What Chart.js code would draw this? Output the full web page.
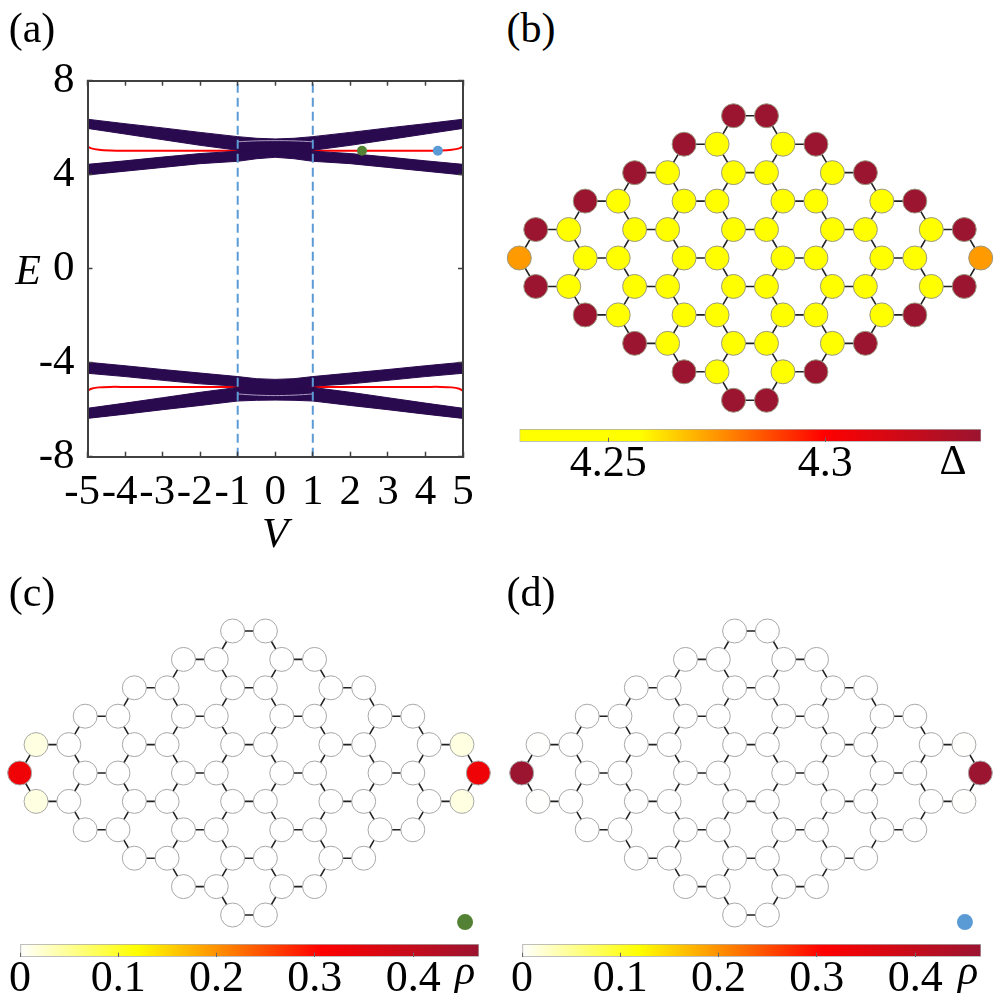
<!DOCTYPE html>
<html>
<head>
<meta charset="utf-8">
<script src="https://cdn.jsdelivr.net/npm/chart.js@4"></script>
<style>
  html, body { margin: 0; padding: 0; background: #fff; }
  #page { position: relative; width: 999px; height: 1000px; overflow: hidden; }
  canvas { position: absolute; }
  .lbl { position: absolute; font-family: "Liberation Serif", serif; font-size: 42px; line-height: 46px; color: #000; white-space: pre; transform: translate(-50%, -50%); }
  .it { font-style: italic; }
</style>
</head>
<body>
<div id="page">
  <canvas id="bands" style="left:0;top:50px" width="499" height="512"></canvas>
  <canvas id="latB" style="left:500px;top:90px" width="500" height="336"></canvas>
  <canvas id="barB" style="left:500px;top:415px" width="499" height="70"></canvas>
  <canvas id="latC" style="left:0;top:605px" width="498" height="336"></canvas>
  <canvas id="barC" style="left:0;top:930px" width="499" height="70"></canvas>
  <canvas id="latD" style="left:502px;top:605px" width="498" height="336"></canvas>
  <canvas id="barD" style="left:500px;top:930px" width="499" height="70"></canvas>

  <span class="lbl" style="left:32px;top:28px">(a)</span>
  <span class="lbl" style="left:531px;top:28px">(b)</span>
  <span class="lbl" style="left:32px;top:592px">(c)</span>
  <span class="lbl" style="left:531px;top:592px">(d)</span>
  <span class="lbl it" style="left:28px;top:270px">E</span>
  <span class="lbl" style="left:953px;top:460px">Δ</span>
  <span class="lbl it" style="left:465px;top:970px">ρ</span>
  <span class="lbl it" style="left:968px;top:970px">ρ</span>
</div>

<script>
Chart.defaults.font.family = '"Liberation Serif"';

// panel (a), band edges
const vKnots   = [-5, -4, -3, -2, -1, -0.5, 0, 0.5, 1, 2, 3, 4, 5];
const upHiTop  = [6.36, 6.17, 5.99, 5.80, 5.62, 5.55, 5.52, 5.55, 5.62, 5.80, 5.99, 6.17, 6.36];
const upHiBot  = [5.97, 5.73, 5.49, 5.25, 5.04, 5.00, 4.95, 5.00, 5.04, 5.25, 5.49, 5.73, 5.97];
const upLoTop  = [4.44, 4.59, 4.75, 4.90, 5.00, 5.10, 5.15, 5.10, 5.00, 4.90, 4.75, 4.59, 4.44];
const upLoBot  = [3.99, 4.15, 4.31, 4.47, 4.57, 4.68, 4.74, 4.68, 4.57, 4.47, 4.31, 4.15, 3.99];
const dnHiTop  = [-3.98, -4.13, -4.29, -4.44, -4.59, -4.68, -4.71, -4.68, -4.59, -4.44, -4.29, -4.13, -3.98];
const dnHiBot  = [-4.45, -4.59, -4.75, -4.90, -5.00, -5.10, -5.15, -5.10, -5.00, -4.90, -4.75, -4.59, -4.45];
const dnLoTop  = [-5.94, -5.72, -5.49, -5.26, -5.05, -5.00, -4.95, -5.00, -5.05, -5.26, -5.49, -5.72, -5.94];
const dnLoBot  = [-6.37, -6.19, -6.00, -5.82, -5.63, -5.60, -5.59, -5.60, -5.63, -5.82, -6.00, -6.19, -6.37];

// the in-gap edge states (red)
const redV   = [-5, -4.9, -4.7, -4.4, -4, -2, 0, 2, 4, 4.4, 4.7, 4.9, 5];
const redUp  = [5.20, 5.12, 5.06, 5.03, 5.02, 5.02, 5.02, 5.02, 5.02, 5.03, 5.06, 5.12, 5.20];
const redDn  = [-5.19, -5.11, -5.05, -5.03, -5.03, -5.03, -5.03, -5.03, -5.03, -5.03, -5.05, -5.11, -5.19];

// faint arcs inside the crossing
const arcV   = [-1, -0.5, 0, 0.5, 1];
const arcUp  = [5.40, 5.44, 5.45, 5.44, 5.40];
const arcDn  = [-5.33, -5.38, -5.40, -5.38, -5.33];

const vLines = [-1, 1];
const greenV = 2.31, blueV = 4.33, dotE = 5.02;

const vTicks = [-5, -4, -3, -2, -1, 0, 1, 2, 3, 4, 5];
const eTicks = [-8, -4, 0, 4, 8];

// lattice sites, row by row from the top
const rowY = [5, 4, 3, 2, 1, 0, -1, -2, -3, -4, -5];
const rowU = [
  [-1, 1],
  [-4, -2, 2, 4],
  [-7, -5, -1, 1, 5, 7],
  [-10, -8, -4, -2, 2, 4, 8, 10],
  [-13, -11, -7, -5, -1, 1, 5, 7, 11, 13],
  [-14, -10, -8, -4, -2, 2, 4, 8, 10, 14],
  [-13, -11, -7, -5, -1, 1, 5, 7, 11, 13],
  [-10, -8, -4, -2, 2, 4, 8, 10],
  [-7, -5, -1, 1, 5, 7],
  [-4, -2, 2, 4],
  [-1, 1]
];

// Δ on each site, panel (b)
const Dh = 4.336, Dl = 4.232, Dt = 4.274;
const rowDelta = [
  [Dh, Dh],
  [Dh, Dl, Dl, Dh],
  [Dh, Dl, Dl, Dl, Dl, Dh],
  [Dh, Dl, Dl, Dl, Dl, Dl, Dl, Dh],
  [Dh, Dl, Dl, Dl, Dl, Dl, Dl, Dl, Dl, Dh],
  [Dt, Dl, Dl, Dl, Dl, Dl, Dl, Dl, Dl, Dt],
  [Dh, Dl, Dl, Dl, Dl, Dl, Dl, Dl, Dl, Dh],
  [Dh, Dl, Dl, Dl, Dl, Dl, Dl, Dh],
  [Dh, Dl, Dl, Dl, Dl, Dh],
  [Dh, Dl, Dl, Dh],
  [Dh, Dh]
];

// ρ on each site, panels (c) and (d): only the corners are non zero
const cornerC = [0.33, 0.014];
const cornerD = [0.467, 0.001];

const deltaMin = 4.2295, deltaMax = 4.336;
const deltaTicks = [4.25, 4.3];
const rhoMin = 0, rhoMax = 0.467;
const rhoTicks = [0, 0.1, 0.2, 0.3, 0.4];

const FONT = { family: '"Liberation Serif"', size: 43 };
const BAR_FONT = { family: '"Liberation Serif"', size: 44 };
const AXIS = '#404040';
const PURPLE = '#2a0a4e';
const BLUE = '#5b9bd5';
const GREEN = '#548235';

const rhoMap = [[0, [255, 255, 255]], [0.255, [255, 255, 0]], [0.655, [255, 0, 0]], [1, [155, 20, 48]]];
const deltaMap = [[0, [255, 255, 0]], [0.26, [255, 255, 0]], [0.66, [255, 0, 0]], [1, [155, 20, 48]]];

function mapColor(stops, t) {
  t = Math.min(1, Math.max(0, t));
  for (let i = 1; i < stops.length; i++) {
    if (t <= stops[i][0]) {
      let a = stops[i - 1], b = stops[i];
      let f = (t - a[0]) / (b[0] - a[0]);
      let c = a[1].map((v, k) => Math.round(v + (b[1][k] - v) * f));
      return `rgb(${c[0]}, ${c[1]}, ${c[2]})`;
    }
  }
  return `rgb(${stops[stops.length - 1][1].join(', ')})`;
}

let zip = (xs, ys) => xs.map((x, i) => ({ x: x, y: ys[i] }));

function band(hi, lo) {
  return [
    { data: zip(vKnots, hi), showLine: true, fill: '+1', backgroundColor: PURPLE, borderColor: PURPLE, borderWidth: 1, pointRadius: 0 },
    { data: zip(vKnots, lo), showLine: true, borderColor: PURPLE, borderWidth: 1, pointRadius: 0 }
  ];
}
function thin(xs, ys, color, w) {
  return { data: zip(xs, ys), showLine: true, tension: 0.3, borderColor: color, borderWidth: w, pointRadius: 0 };
}
function dot(x, y, color) {
  return { data: [{ x: x, y: y }], pointRadius: 5, pointBackgroundColor: color, pointBorderWidth: 0 };
}
function vLine(v) {
  return { data: [{ x: v, y: -8 }, { x: v, y: 8 }], showLine: true, borderColor: BLUE, borderWidth: 2, borderDash: [9, 5], pointRadius: 0 };
}

// CHART (a), first dataset ends up on top
new Chart(document.getElementById('bands'), {
  type: 'scatter',
  data: {
    datasets: [
      dot(greenV, dotE, GREEN),
      dot(blueV, dotE, BLUE),
      ...vLines.map(vLine),
      thin(arcV, arcUp, '#a99cc0', 1),
      thin(arcV, arcDn, '#a99cc0', 1),
      ...band(upHiTop, upHiBot),
      ...band(upLoTop, upLoBot),
      ...band(dnHiTop, dnHiBot),
      ...band(dnLoTop, dnLoBot),
      thin(redV, redUp, '#ff0000', 2),
      thin(redV, redDn, '#ff0000', 2)
    ]
  },
  options: {
    responsive: false,
    animation: false,
    layout: { autoPadding: false, padding: { top: 30.7, right: 36 } },
    plugins: { legend: { display: false }, tooltip: { enabled: false } },
    scales: {
      x: {
        min: -5, max: 5,
        afterBuildTicks: s => { s.ticks = vTicks.map(v => ({ value: v })); },
        afterFit: s => { s.height = 105.3; },
        grid: { drawOnChartArea: false, tickLength: -5, tickColor: AXIS, tickWidth: 1.5, z: 1 },
        border: { color: AXIS, width: 2, z: 1 },
        // trailing space keeps the digit, not the minus sign, under the tick
        ticks: { font: FONT, color: '#000', padding: 15, maxRotation: 0, autoSkip: false, callback: v => (v < 0 ? v + ' ' : String(v)) },
        title: { display: true, text: 'V', color: '#000', font: { ...FONT, style: 'italic' }, padding: 0 }
      },
      x2: {
        position: 'top', min: -5, max: 5,
        afterBuildTicks: s => { s.ticks = vTicks.map(v => ({ value: v })); },
        afterFit: s => { s.height = 0; },
        grid: { drawOnChartArea: false, tickLength: -5, tickColor: AXIS, tickWidth: 1.5, z: 1 },
        border: { color: AXIS, width: 2, z: 1 },
        ticks: { display: false }
      },
      y: {
        min: -8, max: 8,
        afterBuildTicks: s => { s.ticks = eTicks.map(v => ({ value: v })); },
        afterFit: s => { s.width = 87.5; s.paddingTop = 0; s.paddingBottom = 0; },
        grid: { drawOnChartArea: false, tickLength: -5, tickColor: AXIS, tickWidth: 1.5, z: 1 },
        border: { color: AXIS, width: 2, z: 1 },
        ticks: { font: FONT, color: '#000', padding: 18, autoSkip: false, callback: v => String(v) }
      },
      y2: {
        position: 'right', min: -8, max: 8,
        afterBuildTicks: s => { s.ticks = eTicks.map(v => ({ value: v })); },
        afterFit: s => { s.width = 0; },
        grid: { drawOnChartArea: false, tickLength: -5, tickColor: AXIS, tickWidth: 1.5, z: 1 },
        border: { color: AXIS, width: 2, z: 1 },
        ticks: { display: false }
      }
    }
  }
});

// bonds are the nearest neighbour pairs of the sites, null breaks the line
function bondData() {
  let out = [];
  rowU.forEach((us, r) => {
    us.forEach(u => {
      if (us.includes(u + 2)) out.push({ x: u, y: rowY[r] }, { x: u + 2, y: rowY[r] }, { x: null, y: null });
      if (r + 1 < rowU.length) {
        [u - 1, u + 1].forEach(n => {
          if (rowU[r + 1].includes(n)) out.push({ x: u, y: rowY[r] }, { x: n, y: rowY[r + 1] }, { x: null, y: null });
        });
      }
    });
  });
  return out;
}

function lattice(id, colors, borders, halfX, halfY, extra) {
  let sites = [];
  rowU.forEach((us, r) => us.forEach(u => sites.push({ x: u, y: rowY[r] })));
  let sets = [
    { data: sites, pointRadius: 12, pointBackgroundColor: colors, pointBorderColor: borders, pointBorderWidth: 1, clip: false },
    { data: bondData(), showLine: true, spanGaps: false, borderColor: '#222', borderWidth: 1.6, pointRadius: 0, clip: false }
  ];
  if (extra) sets.unshift({ data: [extra.at], pointRadius: 8, pointBackgroundColor: extra.color, pointBorderWidth: 0, clip: false });
  new Chart(document.getElementById(id), {
    type: 'scatter',
    data: { datasets: sets },
    options: {
      responsive: false,
      animation: false,
      layout: { autoPadding: false },
      plugins: { legend: { display: false }, tooltip: { enabled: false } },
      scales: {
        x: { display: false, min: -halfX, max: halfX },
        y: { display: false, min: -halfY, max: halfY }
      }
    }
  });
}

function colorBar(id, stops, lo, hi, tickVals, left, width) {
  new Chart(document.getElementById(id), {
    type: 'bar',
    data: {
      labels: [''],
      datasets: [{
        data: [[lo, hi]],
        barPercentage: 1,
        categoryPercentage: 1,
        borderWidth: 1,
        borderSkipped: false,
        borderColor: '#aaa',
        backgroundColor: c => {
          let a = c.chart.chartArea;
          if (!a) return '#fff';
          let g = c.chart.ctx.createLinearGradient(a.left, 0, a.right, 0);
          stops.forEach(s => g.addColorStop(s[0], `rgb(${s[1].join(', ')})`));
          return g;
        }
      }]
    },
    options: {
      indexAxis: 'y',
      responsive: false,
      animation: false,
      layout: { autoPadding: false, padding: { left: left, right: 499 - left - width, top: 14 } },
      plugins: { legend: { display: false }, tooltip: { enabled: false } },
      scales: {
        y: { display: false },
        x: {
          min: lo, max: hi,
          afterBuildTicks: s => { s.ticks = tickVals.map(v => ({ value: v })); },
          afterFit: s => { s.height = 43.3; },
          grid: { drawOnChartArea: false, tickLength: -4, tickColor: '#666', z: 1 },
          border: { display: false },
          ticks: { font: BAR_FONT, color: '#000', padding: 0, maxRotation: 0, autoSkip: false, callback: v => String(v) }
        }
      }
    }
  });
}

let flat = rows => rows.reduce((a, r) => a.concat(r), []);

// CHART (b)
let deltaColors = flat(rowDelta).map(d => mapColor(deltaMap, (d - deltaMin) / (deltaMax - deltaMin)));
lattice('latB', deltaColors, '#9a9a80', 250 / 16.48, 168 / 28.45);
colorBar('barB', deltaMap, deltaMin, deltaMax, deltaTicks, 19.5, 461.7);

// CHARTS (c) and (d)
function rhoColors(corner) {
  let out = [];
  rowU.forEach((us, r) => us.forEach(u => {
    let val = 0;
    if (Math.abs(u) === 14) val = corner[0];
    if (Math.abs(u) === 13) val = corner[1];
    out.push(mapColor(rhoMap, val / rhoMax));
  }));
  return out;
}
lattice('latC', rhoColors(cornerC), '#a8a8a8', 249 / 16.38, 168 / 28.4, { at: { x: 13.19, y: -5.25 }, color: GREEN });
lattice('latD', rhoColors(cornerD), '#a8a8a8', 249 / 16.38, 168 / 28.4, { at: { x: 13.06, y: -5.25 }, color: BLUE });
colorBar('barC', rhoMap, rhoMin, rhoMax, rhoTicks, 20, 459);
colorBar('barD', rhoMap, rhoMin, rhoMax, rhoTicks, 22, 459);
</script>
</body>
</html>
